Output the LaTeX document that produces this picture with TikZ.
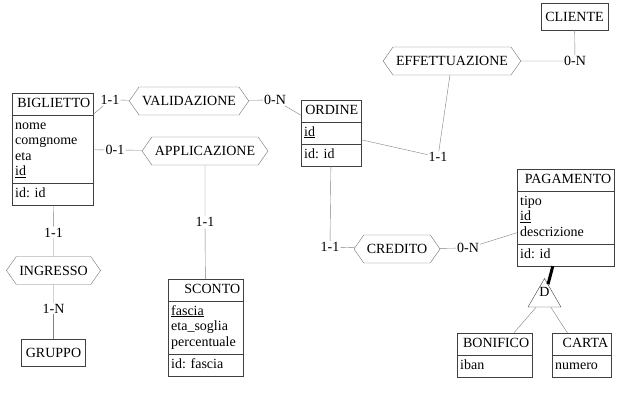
\documentclass[tikz,border=0pt]{standalone}
\usepackage{fontspec}
\setmainfont{Liberation Serif}
\usetikzlibrary{shapes.multipart,shapes.symbols,shapes.geometric}

\begin{document}
\begin{tikzpicture}[x=1pt,y=-1pt,font=\fontsize{14}{15.5}\selectfont\frenchspacing,
    entity/.style={rectangle split,rectangle split parts=3,draw=black!75,anchor=north west,
        align=left,inner xsep=3pt,inner ysep=3pt},
    box/.style={rectangle,draw=black!75,inner xsep=4.5pt,minimum height=27pt},
    rel/.style={signal,signal to=west and east,signal pointer angle=110,draw=black!55,
        inner xsep=3pt,inner ysep=0pt,minimum height=28pt},
    card/.style={fill=white,inner sep=1pt},
    isa/.style={regular polygon,regular polygon sides=3,draw=black!75,minimum size=38pt,inner sep=0pt},
    isa link/.style={draw=black,line width=3pt},
    every edge/.style={draw=black!50}
    ]
  \useasboundingbox (0,0) rectangle (619,403);

  % entities
  \node[entity,text width=75pt] (biglietto) at (12,93)
    {\strut\hfill BIGLIETTO\hfill
     \nodepart{two}\strut nome\\comgnome\\eta\\\underline{id}\strut
     \nodepart{three}\strut id: id};
  \node[entity,text width=54pt] (ordine) at (301,100)
    {\strut\hfill ORDINE\hfill
     \nodepart{two}\strut\underline{id}\strut
     \nodepart{three}\strut id: id};
  \node[entity,text width=91pt] (pagamento) at (517,169)
    {\strut\hfill PAGAMENTO\hfill
     \nodepart{two}\strut tipo\\\underline{id}\\descrizione\strut
     \nodepart{three}\strut id: id};
  \node[entity,text width=69pt] (sconto) at (168,279)
    {\strut\hfill SCONTO\hfill
     \nodepart{two}\strut\underline{fascia}\\eta\_soglia\\percentuale\strut
     \nodepart{three}\strut id: fascia};
  \node[entity,rectangle split parts=2,text width=69pt] (bonifico) at (457,333)
    {\strut\hfill BONIFICO\hfill
     \nodepart{two}\strut iban};
  \node[entity,rectangle split parts=2,text width=53pt] (carta) at (552,333)
    {\strut\hfill CARTA\hfill
     \nodepart{two}\strut numero};
  \node[box] (cliente) at (574.5,16.5) {CLIENTE};

  % relationships
  \node[rel] (validazione) at (189,101) {VALIDAZIONE};
  \node[rel] (applicazione) at (205,151) {APPLICAZIONE};
  \node[rel] (effettuazione) at (452,61) {EFFETTUAZIONE};
  \node[rel] (credito) at (397,249) {CREDITO};
  \node[rel] (ingresso) at (53.5,270.5) {INGRESSO};

  % cardinalities
  \node[card] (c1) at (110,100) {1-1};
  \node[card] (c2) at (275,100) {0-N};
  \node[card] (c3) at (115,150) {0-1};
  \node[card] (c4) [below of=applicazione,node distance=71pt] {1-1};
  \node[card] (c5) at (438,157) {1-1};
  \node[card] (c6) [right of=effettuazione,node distance=123pt] {0-N};
  \node[card] (c7) at (330,247) {1-1};
  \node[card] (c8) at (468,248) {0-N};
  \node[card] (c9) [above of=ingresso,node distance=38pt] {1-1};
  \node[card] (c10) [below of=ingresso,node distance=38pt] {1-N};
  \node[box] (gruppo) [below of=c10,node distance=44pt] {GRUPPO};

  % generalization
  \node[isa,label={[yshift=5.5pt]center:D}] (isa) at (544.5,297.5) {};

  \path (biglietto) edge (c1)
        (c1) edge (validazione)
        (validazione) edge (c2)
        (c2) edge (ordine)
        (biglietto) edge (c3)
        (c3) edge (applicazione)
        (applicazione) edge (c4)
        (c4) edge (sconto)
        (ordine) edge (c5)
        (c5) edge (effettuazione)
        (effettuazione) edge (c6)
        (c6) edge (cliente)
        (ordine) edge (c7)
        (c7) edge (credito)
        (credito) edge (c8)
        (c8) edge (pagamento)
        (biglietto) edge (c9)
        (c9) edge (ingresso)
        (ingresso) edge (c10)
        (c10) edge (gruppo)
        (pagamento) edge[isa link] (isa)
        (isa) edge (bonifico)
        (isa) edge (carta);

\end{tikzpicture}
\end{document}
